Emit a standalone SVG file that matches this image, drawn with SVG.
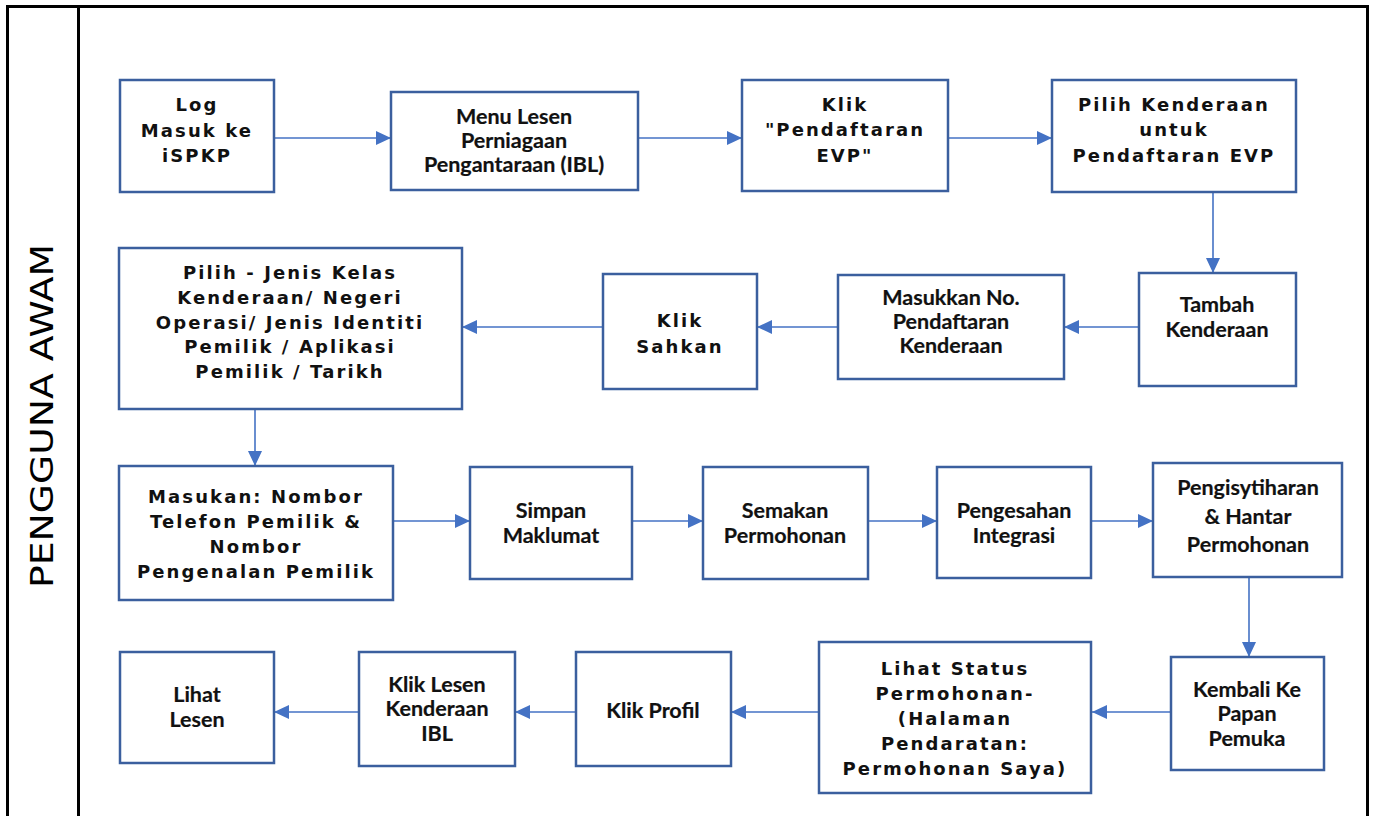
<svg xmlns="http://www.w3.org/2000/svg" width="1376" height="816" viewBox="0 0 1376 816">
  <style>
    .frame { fill: none; stroke: #000; stroke-width: 3; }
    .box { fill: #fff; stroke: #3B5F9E; stroke-width: 2.5; }
    .wide { font-family: "DejaVu Sans", Verdana, sans-serif; font-weight: bold; font-size: 18px; letter-spacing: 2.1px; fill: #111; text-anchor: middle; }
    .narrow { font-family: Lato, "Liberation Sans", sans-serif; font-weight: bold; font-size: 21.5px; fill: #111; stroke: #111; stroke-width: 0.2; text-anchor: middle; }
    .lane { font-family: "DejaVu Sans", Verdana, sans-serif; font-size: 32px; fill: #000; text-anchor: middle; }
    .conn { stroke: #4472C4; stroke-width: 1.6; fill: none; marker-end: url(#arrow); }
  </style>
  <defs>
    <marker id="arrow" markerUnits="userSpaceOnUse" markerWidth="16" markerHeight="14" refX="15" refY="7" orient="auto">
      <path d="M0,0 L15,7 L0,14 Z" fill="#4472C4"/>
    </marker>
  </defs>

  <rect width="1376" height="816" fill="#fff"/>

  <!-- swimlane frame -->
  <g id="lane">
    <path class="frame" d="M7.5,830 V6.5 H1367.5 V830"/>
    <line class="frame" x1="78.5" y1="6.5" x2="78.5" y2="830"/>
    <text class="lane" transform="translate(53,416) rotate(-90)" textLength="344" lengthAdjust="spacingAndGlyphs">PENGGUNA AWAM</text>
  </g>

  <!-- connectors -->
  <g id="connectors">
    <line class="conn" x1="274" y1="138" x2="391" y2="138"/>
    <line class="conn" x1="638" y1="138" x2="742" y2="138"/>
    <line class="conn" x1="948" y1="138" x2="1052" y2="138"/>
    <line class="conn" x1="1213" y1="192" x2="1213" y2="273"/>
    <line class="conn" x1="1139" y1="327" x2="1064" y2="327"/>
    <line class="conn" x1="838" y1="327" x2="757" y2="327"/>
    <line class="conn" x1="603" y1="327" x2="462" y2="327"/>
    <line class="conn" x1="255" y1="409" x2="255" y2="466"/>
    <line class="conn" x1="393" y1="521" x2="470" y2="521"/>
    <line class="conn" x1="632" y1="521" x2="703" y2="521"/>
    <line class="conn" x1="868" y1="521" x2="937" y2="521"/>
    <line class="conn" x1="1091" y1="521" x2="1153" y2="521"/>
    <line class="conn" x1="1249" y1="578" x2="1249" y2="657"/>
    <line class="conn" x1="1171" y1="712" x2="1092" y2="712"/>
    <line class="conn" x1="819" y1="712" x2="731" y2="712"/>
    <line class="conn" x1="576" y1="712" x2="515" y2="712"/>
    <line class="conn" x1="359" y1="712" x2="274" y2="712"/>
  </g>

  <!-- row 1 -->
  <g id="n-log-masuk">
    <rect class="box" x="120" y="80" width="154" height="112"/>
    <text class="wide" x="197" y="111">Log</text>
    <text class="wide" x="197" y="137">Masuk ke</text>
    <text class="wide" x="197" y="162">iSPKP</text>
  </g>
  <g id="n-menu-lesen">
    <rect class="box" x="391" y="92" width="247" height="98"/>
    <text class="narrow" x="514" y="124">Menu Lesen</text>
    <text class="narrow" x="514" y="148">Perniagaan</text>
    <text class="narrow" x="514" y="172">Pengantaraan (IBL)</text>
  </g>
  <g id="n-klik-pendaftaran">
    <rect class="box" x="742" y="80" width="206" height="111"/>
    <text class="wide" x="845" y="111">Klik</text>
    <text class="wide" x="845" y="136">"Pendaftaran</text>
    <text class="wide" x="845" y="162">EVP"</text>
  </g>
  <g id="n-pilih-kenderaan">
    <rect class="box" x="1052" y="80" width="244" height="112"/>
    <text class="wide" x="1174" y="111">Pilih Kenderaan</text>
    <text class="wide" x="1174" y="136">untuk</text>
    <text class="wide" x="1174" y="162">Pendaftaran EVP</text>
  </g>

  <!-- row 2 -->
  <g id="n-tambah">
    <rect class="box" x="1139" y="273" width="157" height="113"/>
    <text class="narrow" x="1217" y="312">Tambah</text>
    <text class="narrow" x="1217" y="337">Kenderaan</text>
  </g>
  <g id="n-masukkan-no">
    <rect class="box" x="838" y="275" width="226" height="104"/>
    <text class="narrow" x="951" y="305">Masukkan No.</text>
    <text class="narrow" x="951" y="329">Pendaftaran</text>
    <text class="narrow" x="951" y="353">Kenderaan</text>
  </g>
  <g id="n-sahkan">
    <rect class="box" x="603" y="274" width="154" height="115"/>
    <text class="wide" x="680" y="327">Klik</text>
    <text class="wide" x="680" y="353">Sahkan</text>
  </g>
  <g id="n-pilih-jenis">
    <rect class="box" x="119" y="248" width="343" height="161"/>
    <text class="wide" x="290" y="279">Pilih - Jenis Kelas</text>
    <text class="wide" x="290" y="304">Kenderaan/ Negeri</text>
    <text class="wide" x="290" y="329">Operasi/ Jenis Identiti</text>
    <text class="wide" x="290" y="353">Pemilik / Aplikasi</text>
    <text class="wide" x="290" y="378">Pemilik / Tarikh</text>
  </g>

  <!-- row 3 -->
  <g id="n-masukan">
    <rect class="box" x="119" y="466" width="274" height="134"/>
    <text class="wide" x="256" y="503">Masukan: Nombor</text>
    <text class="wide" x="256" y="528">Telefon Pemilik &amp;</text>
    <text class="wide" x="256" y="553">Nombor</text>
    <text class="wide" x="256" y="578">Pengenalan Pemilik</text>
  </g>
  <g id="n-simpan">
    <rect class="box" x="470" y="467" width="162" height="112"/>
    <text class="narrow" x="551" y="518">Simpan</text>
    <text class="narrow" x="551" y="543">Maklumat</text>
  </g>
  <g id="n-semakan">
    <rect class="box" x="703" y="467" width="165" height="112"/>
    <text class="narrow" x="785" y="518">Semakan</text>
    <text class="narrow" x="785" y="543">Permohonan</text>
  </g>
  <g id="n-pengesahan">
    <rect class="box" x="937" y="467" width="154" height="111"/>
    <text class="narrow" x="1014" y="518">Pengesahan</text>
    <text class="narrow" x="1014" y="543">Integrasi</text>
  </g>
  <g id="n-pengisytiharan">
    <rect class="box" x="1153" y="463" width="189" height="114"/>
    <text class="narrow" x="1248" y="495">Pengisytiharan</text>
    <text class="narrow" x="1248" y="524">&amp; Hantar</text>
    <text class="narrow" x="1248" y="552">Permohonan</text>
  </g>

  <!-- row 4 -->
  <g id="n-kembali">
    <rect class="box" x="1171" y="657" width="153" height="113"/>
    <text class="narrow" x="1247" y="697">Kembali Ke</text>
    <text class="narrow" x="1247" y="721">Papan</text>
    <text class="narrow" x="1247" y="746">Pemuka</text>
  </g>
  <g id="n-lihat-status">
    <rect class="box" x="819" y="642" width="272" height="151"/>
    <text class="wide" x="955" y="675">Lihat Status</text>
    <text class="wide" x="955" y="700">Permohonan-</text>
    <text class="wide" x="955" y="725">(Halaman</text>
    <text class="wide" x="955" y="750">Pendaratan:</text>
    <text class="wide" x="955" y="775">Permohonan Saya)</text>
  </g>
  <g id="n-klik-profil">
    <rect class="box" x="576" y="652" width="155" height="114"/>
    <text class="narrow" x="653" y="718">Klik Profil</text>
  </g>
  <g id="n-klik-lesen">
    <rect class="box" x="359" y="652" width="156" height="114"/>
    <text class="narrow" x="437" y="692">Klik Lesen</text>
    <text class="narrow" x="437" y="716">Kenderaan</text>
    <text class="narrow" x="437" y="741">IBL</text>
  </g>
  <g id="n-lihat-lesen">
    <rect class="box" x="120" y="652" width="154" height="111"/>
    <text class="narrow" x="197" y="702">Lihat</text>
    <text class="narrow" x="197" y="727">Lesen</text>
  </g>
</svg>
